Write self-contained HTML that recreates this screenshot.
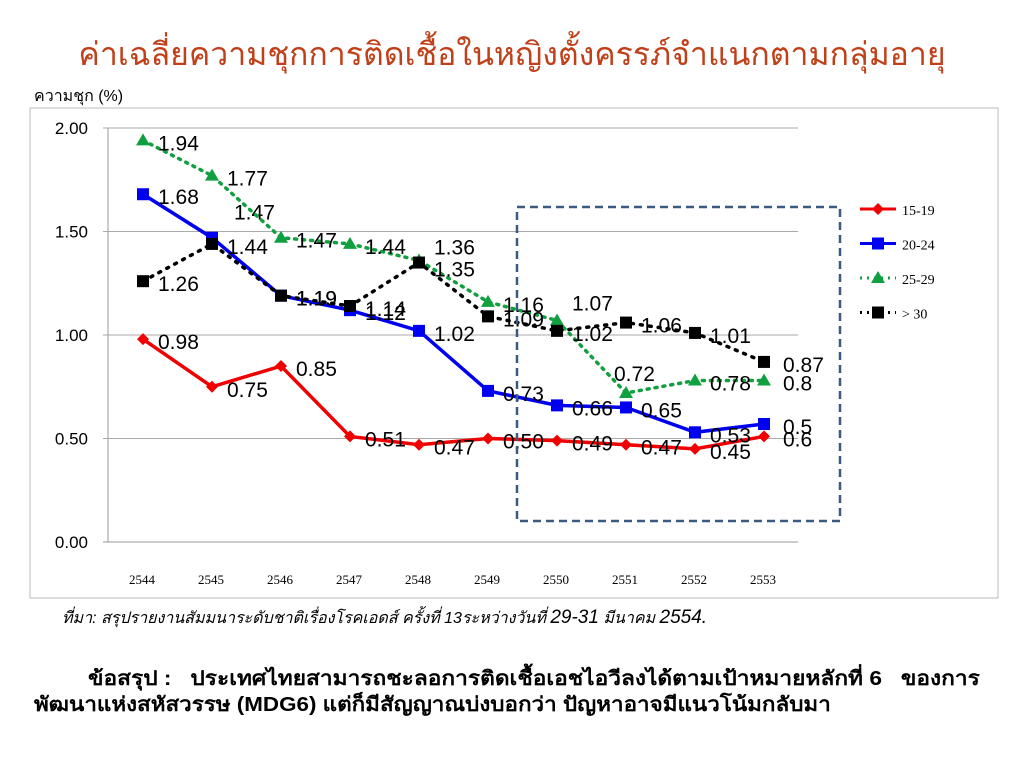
<!DOCTYPE html>
<html><head><meta charset="utf-8">
<style>
body{margin:0;width:1024px;height:768px;background:#fff;font-family:"Liberation Sans","Noto Sans CJK SC",sans-serif;overflow:hidden;position:relative}
.t{position:absolute;white-space:nowrap}
</style></head><body>
<div class="t" style="left:0;width:1024px;text-align:center;top:29px;font-size:32px;color:#C0401A;font-family:'Liberation Sans','Noto Sans CJK SC','WenQuanYi Zen Hei',sans-serif">ค่าเฉลี่ยความชุกการติดเชื้อในหญิงตั้งครรภ์จำแนกตามกลุ่มอายุ</div>
<div class="t" style="left:34px;top:84px;font-size:16px">ความชุก (%)</div>
<svg width="1024" height="768" style="position:absolute;left:0;top:0" id="chart">
<rect x="30" y="108" width="968" height="490" fill="none" stroke="#bbb"/>
<g id="grid"></g><g id="series"></g>
<rect x="517" y="207" width="323" height="314" fill="none" stroke="#3B5A80" stroke-width="2.5" stroke-dasharray="8,5"/>
<g id="legend"></g>
</svg>
<div class="t" style="left:62px;top:606px;font-size:16px;font-style:italic">ที่มา: สรุปรายงานสัมมนาระดับชาติเรื่องโรคเอดส์ ครั้งที่ 13ระหว่างวันที่ <span style="font-size:19px">29-31</span> มีนาคม <span style="font-size:19px">2554.</span></div>
<div class="t" style="left:88px;top:662px;font-size:20px;font-weight:bold;transform:scaleX(1.135);transform-origin:0 0">ข้อสรุป :&nbsp;&nbsp; ประเทศไทยสามารถชะลอการติดเชื้อเอชไอวีลงได้ตามเป้าหมายหลักที่ 6&nbsp;&nbsp; ของการ</div>
<div class="t" style="left:34px;top:688px;font-size:20px;font-weight:bold;transform:scaleX(1.12);transform-origin:0 0">พัฒนาแห่งสหัสวรรษ (MDG6) แต่ก็มีสัญญาณบ่งบอกว่า ปัญหาอาจมีแนวโน้มกลับมา</div>
<script>
const categories=["2544","2545","2546","2547","2548","2549","2550","2551","2552","2553"];
const yTicks=[0,0.5,1,1.5,2];
const s1519=[0.98,0.75,0.85,0.51,0.47,0.50,0.49,0.47,0.45,0.51];
const s2024=[1.68,1.47,1.19,1.12,1.02,0.73,0.66,0.65,0.53,0.57];
const s2529=[1.94,1.77,1.47,1.44,1.36,1.16,1.07,0.72,0.78,0.78];
const s30=[1.26,1.44,1.19,1.14,1.35,1.09,1.02,1.06,1.01,0.87];
const l1519=["0.98","0.75","0.85","0.51","0.47","0.50","0.49","0.47","0.45","0.6"];
const l2024=["1.68","1.47","1.19","1.12","1.02","0.73","0.66","0.65","0.53","0.5"];
const l2529=["1.94","1.77","1.47","1.44","1.36","1.16","1.07","0.72","0.78","0.8"];
const l30=["1.26","1.44","1.19","1.14","1.35","1.09","1.02","1.06","1.01","0.87"];
const legendNames=["15-19","20-24","25-29","> 30"];
const NS="http://www.w3.org/2000/svg";
const X=i=>143+i*69, Y=v=>542-v*207;
function mk(tag,at,p){const e=document.createElementNS(NS,tag);for(const k in at)e.setAttribute(k,at[k]);p.appendChild(e);return e;}
const grid=document.getElementById('grid');
mk('line',{x1:108,y1:128,x2:108,y2:542,stroke:'#999'},grid);
yTicks.forEach(v=>{const l=mk('line',{x1:103,x2:798,y1:Y(v),y2:Y(v),stroke:v?'#aaa':'#999'},grid);


const t=mk('text',{x:88,y:Y(v)+6,'text-anchor':'end','font-size':17,'font-family':'Liberation Sans'},grid);t.textContent=v.toFixed(2);

});
categories.forEach((c,i)=>{const t=mk('text',{x:X(i)-1,y:584,'text-anchor':'middle','font-size':13,'font-family':'Liberation Serif'},grid);t.textContent=c;

});
const ser=[
 {d:s1519,l:l1519,c:'#F00000',dash:null,w:3.5,m:'d'},
 {d:s2024,l:l2024,c:'#0000F0',dash:null,w:3.5,m:'s'},
 {d:s2529,l:l2529,c:'#10A040',dash:'2,6',w:3.5,m:'t'},
 {d:s30,l:l30,c:'#000',dash:'2,7',w:3.5,m:'s'}];
const tweak={"1-1":[22,-18],"2-4":[15,-6],"2-6":[15,-10],"2-7":[-12,-12],"3-4":[15,14]};
const sg=document.getElementById('series');
function marker(m,x,y,c,p){let e;
 if(m==='d')e=mk('polygon',{points:`${x},${y-6} ${x+6},${y} ${x},${y+6} ${x-6},${y}`,fill:c},p);
 else if(m==='s')e=mk('rect',{x:x-6,y:y-6,width:12,height:12,fill:c},p);
 else e=mk('polygon',{points:`${x},${y-7} ${x+7},${y+5} ${x-7},${y+5}`,fill:c},p);
 return e;}
ser.forEach((s,k)=>{const g=mk('g',{},sg);
 
 
 const pl=mk('polyline',{points:s.d.map((v,i)=>X(i)+','+Y(v)).join(' '),fill:'none',stroke:s.c,'stroke-width':s.w,'stroke-linecap':'round'},g);
 if(s.dash)pl.setAttribute('stroke-dasharray',s.dash);
 
 
 s.d.forEach((v,i)=>{const mm=marker(s.m,X(i),Y(v),s.c,g);
  
  
  const tw=tweak[k+'-'+i]||[15,10];
  let lx=X(i)+tw[0], ly=Y(v)+tw[1];
  if(i===9){lx=783;}
  const t=mk('text',{x:lx,y:ly,'font-size':21,'font-family':'Liberation Sans'},g);t.textContent=s.l[i];
  
  });
});
const lg=document.getElementById('legend');
legendNames.forEach((n,k)=>{const y=209+k*34.5,s=ser[k];const g=mk('g',{},lg);
 
 
 const l=mk('line',{x1:860,x2:896,y1:y,y2:y,stroke:s.c,'stroke-width':3},g);if(s.dash)l.setAttribute('stroke-dasharray','2,5');
 marker(s.m,878,y,s.c,g);
 const t=mk('text',{x:902,y:y+6,'font-size':14,'font-family':'Liberation Serif'},g);t.textContent=n;});
</script>
</body></html>
